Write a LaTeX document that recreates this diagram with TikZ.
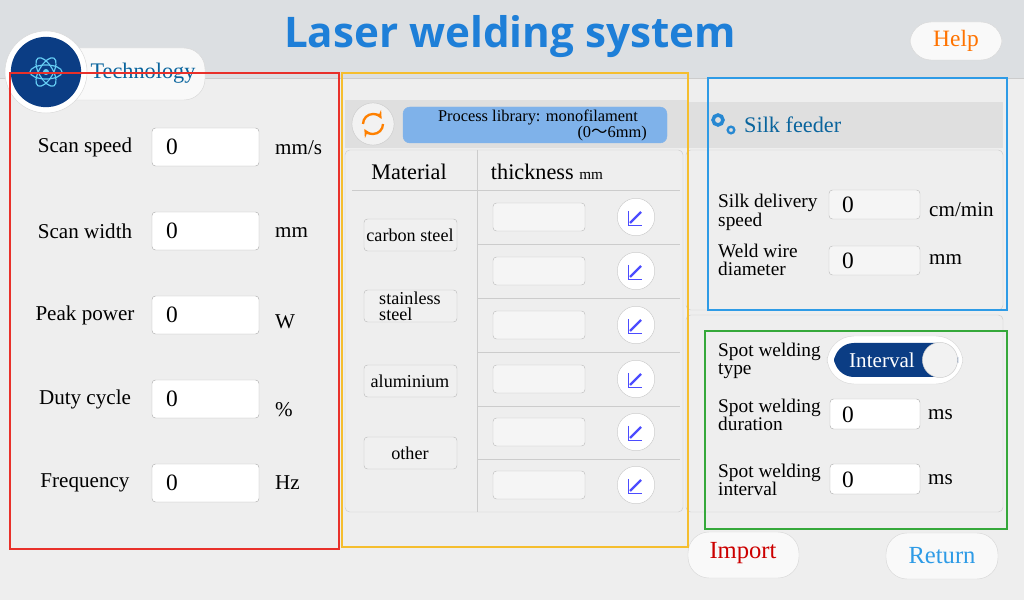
\documentclass[tikz,border=0pt]{standalone}
\usepackage{fontspec}
\setmainfont{Liberation Serif}
\newfontfamily\titlefont{Open Sans}
\newfontfamily\cjk{Noto Sans CJK SC}
\usetikzlibrary{positioning}
\definecolor{bg}{HTML}{EEEEEE}
\definecolor{band}{HTML}{DCDFE2}
\definecolor{titleblue}{HTML}{1E7FD8}
\definecolor{navy}{HTML}{0B3D84}
\definecolor{libblue}{HTML}{7FB2EA}
\definecolor{redframe}{HTML}{E8302A}
\definecolor{yelframe}{HTML}{F5BE2E}
\definecolor{blueframe}{HTML}{2E9BE6}
\definecolor{greenframe}{HTML}{35A83A}
\tikzset{
  lbl/.style={font=\fontsize{18}{18}\selectfont, inner sep=0pt},
  lbltwo/.style={font=\fontsize{16.5}{15}\selectfont, inner sep=0pt, align=left, anchor=west},
  field/.style={draw=gray!60, fill=white, rounded corners=3pt},
  tfield/.style={draw=gray!50, fill=gray!8, rounded corners=3pt},
  zero/.style={font=\fontsize{20}{20}\selectfont, inner sep=0pt},
  matbtn/.style={draw=gray!50, fill=gray!12, rounded corners=3pt},
  pill/.style={draw=gray!30, fill=gray!5, rounded corners=18pt},
  frame/.style={line width=1.5pt},
  panel/.style={draw=gray!40, fill=bg, rounded corners=4pt}
}
\begin{document}
\begin{tikzpicture}[x=0.03cm, y=-0.03cm]
\useasboundingbox (0,0) rectangle (1024,600);
% background
\fill[bg] (0,0) rectangle (1024,600);
\fill[band] (0,0) rectangle (1024,78);
\draw[gray!40] (0,78) -- (1024,78);
\node[font=\titlefont\bfseries\fontsize{36}{36}\selectfont, text=titleblue] (title) at (510,37) {Laser welding system};
\draw[pill] (910,22) rectangle (1002,60);
\node[lbl, text=orange!90!red, font=\fontsize{20}{20}\selectfont] (help) at (956,41) {Help};
% technology tab
\draw[pill] (40,48) rectangle (205,100);
\node[circle, fill=white, draw=gray!30, minimum size=70] (techring) at (46,72) {};
\node[circle, fill=navy, minimum size=60] (techicon) at (46,72) {};
\foreach \a in {0,60,120}
  \draw[cyan!60, line width=1pt, rotate around={\a:(46,72)}] (46,72) ellipse (16 and 7);
\fill[cyan!60] (46,72) circle (3);
\node[lbl, text=navy!80!cyan, font=\fontsize{19}{19}\selectfont] (tech) at (143,73) {Technology};
% left panel
\foreach \y/\name/\unit/\uy in {147/Scan speed/mm\slash s/148, 231/Scan width/mm/233, 315/Peak power/W/322, 399/Duty cycle/\%/410, 483/Frequency/Hz/483} {
  \node[lbl] at (85,\y) {\name};
  \draw[field] (152,\y-19) rectangle (259,\y+19);
  \node[zero] at (172,\y) {0};
  \node[lbl, anchor=west] at (275,\uy) {\unit};
}
% process library panel
\fill[gray!25] (345,100) rectangle (688,148);
\node[circle, fill=gray!10, draw=gray!40, minimum size=36] (refresh) at (373,124) {};
\draw[orange, line width=2pt, -stealth] (383,124) arc[start angle=0, end angle=150, radius=10];
\draw[orange, line width=2pt, -stealth] (363,124) arc[start angle=180, end angle=330, radius=10];
\draw[libblue, fill=libblue, rounded corners=6pt] (403,107) rectangle (667,143);
\node[font=\fontsize{14}{14}\selectfont, inner sep=0pt] (lib) at (538,117) {Process library: monofilament};
\node[font=\fontsize{14}{14}\selectfont, inner sep=0pt, anchor=east] (librange) at (647,134) {(0{\cjk\char"301C}6mm)};
\draw[panel] (345,150) rectangle (683,512);
\draw[gray!40] (477,150) -- (477,512);
\draw[gray!40] (352,190) -- (680,190);
\foreach \y in {244,298,352,406,459} \draw[gray!40] (477,\y) -- (680,\y);
\node[lbl, font=\fontsize{19}{19}\selectfont] (material) at (409,172) {Material};
\node[lbl, font=\fontsize{19}{19}\selectfont] (thick) at (547,172) {thickness \fontsize{13}{13}\selectfont mm};
\foreach \y/\txt in {235/carbon steel, 306/stainless\\steel, 381/aluminium, 453/other} {
  \draw[matbtn] (364,\y-16) rectangle (457,\y+16);
  \node[font=\fontsize{15.5}{14}\selectfont, align=left, inner sep=0pt] at (410,\y) {\txt};
}
\foreach \y in {217,271,325,379,432,485} {
  \draw[tfield] (493,\y-14) rectangle (585,\y+14);
  \node[circle, fill=white, draw=gray!40, minimum size=32] at (636,\y) {};
  \draw[blue!70, line width=2pt] (630,\y+6) -- (641,\y-5);
  \draw[blue!70] (628,\y-6) -- (628,\y+8) -- (642,\y+8);
}
% silk feeder panel
\fill[gray!25] (686,102) rectangle (1003,148);
\node[circle, draw=blueframe!80!navy, line width=3pt, inner sep=3pt] (gear) at (718,120) {};
\node[circle, draw=blueframe!80!navy, line width=2pt, inner sep=2pt] at (731,130) {};
\node[lbl, text=navy!80!cyan, font=\fontsize{19}{19}\selectfont, anchor=west] (silk) at (744,125) {Silk feeder};
\draw[panel] (686,150) rectangle (1003,310);
\node[lbltwo] at (718,212) {Silk delivery\\speed};
\draw[tfield] (829,190) rectangle (920,219);
\node[zero] at (848,205) {0};
\node[lbl, anchor=west] at (929,210) {cm/min};
\node[lbltwo] at (718,260) {Weld wire\\diameter};
\draw[tfield] (829,246) rectangle (920,275);
\node[zero] at (848,261) {0};
\node[lbl, anchor=west] at (929,260) {mm};
% spot welding panel
\draw[panel] (686,315) rectangle (1003,512);
\node[lbltwo] at (718,361) {Spot welding\\type};
\draw[draw=gray!30, fill=white, rounded corners=23pt] (827,336) rectangle (963,384);
\fill[navy, rounded corners=17pt] (834,343) rectangle (958,377);
\node[lbl, text=white] (interval) at (882,360) {Interval};
\node[circle, fill=gray!10, draw=gray!40, minimum size=30] (knob) at (940,360) {};
\foreach \y/\txt in {415/duration, 480/interval} {
  \node[lbltwo] at (718,\y) {Spot welding\\\txt};
  \draw[field] (830,\y-16) rectangle (920,\y+14);
  \node[zero] at (848,\y) {0};
  \node[lbl, anchor=west] at (928,\y) {ms};
}
% buttons
\draw[pill] (688,532) rectangle (799,578);
\node[lbl, text=red!80!black, font=\fontsize{21}{21}\selectfont] (import) at (743,553) {Import};
\draw[pill] (886,533) rectangle (998,579);
\node[lbl, text=blueframe, font=\fontsize{21}{21}\selectfont] (return) at (942,556) {Return};
% highlight frames
\draw[frame, redframe] (10,73) rectangle (339,549);
\draw[frame, yelframe] (342,73) rectangle (688,547);
\draw[frame, blueframe] (708,78) rectangle (1007,310);
\draw[frame, greenframe] (705,331) rectangle (1007,529);
\end{tikzpicture}
\end{document}
